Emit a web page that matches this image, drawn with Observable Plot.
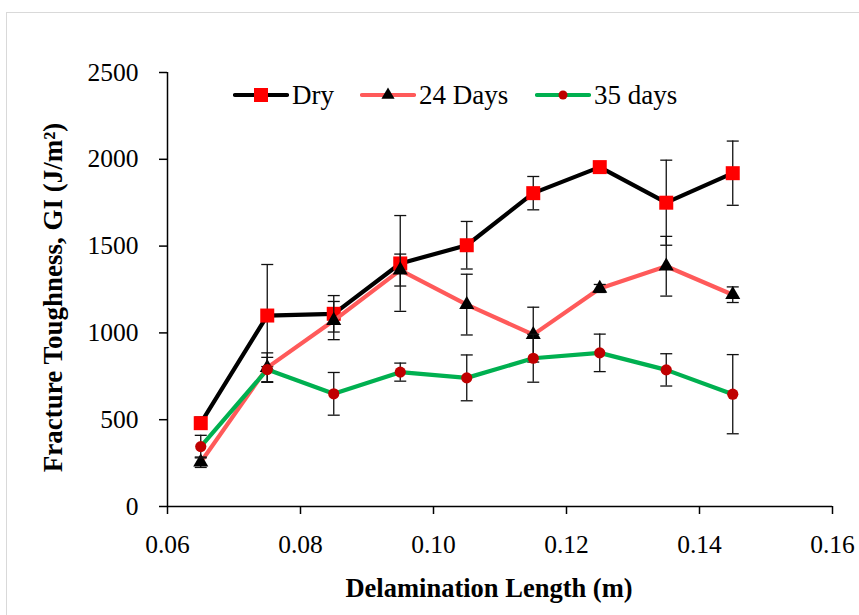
<!DOCTYPE html>
<html>
<head>
<meta charset="utf-8">
<script src="https://cdn.jsdelivr.net/npm/d3@7"></script>
<script src="https://cdn.jsdelivr.net/npm/@observablehq/plot@0.6"></script>
<style>
  html, body { margin: 0; padding: 0; background: #fff; }
  #wrap { position: relative; width: 859px; height: 615px; overflow: hidden; font-family: "Liberation Serif", serif; }
  #border { position: absolute; left: 6px; top: 12px; width: 870px; height: 640px; border: 1px solid #d9d9d9; box-sizing: border-box; }
  #chart { position: absolute; left: 0; top: 0; }
  .leg { position: absolute; top: 77px; height: 36px; display: flex; align-items: center; font-size: 27px; color: #000; white-space: nowrap; }
  .leg svg { margin-right: 3px; }
</style>
</head>
<body>
<div id="wrap">
  <div id="border"></div>
  <div id="chart"></div>
</div>
<script>
// ---- data ----
const lengths = [0.065, 0.075, 0.085, 0.095, 0.105, 0.115, 0.125, 0.135, 0.145];
const dryValues   = [480, 1100, 1110, 1400, 1505, 1805, 1955, 1750, 1920];
const dryErrors   = [35, 294, 105, 276, 137, 96, 10, 245, 185];
const days24Values = [255, 800, 1071, 1362, 1163, 990, 1256, 1384, 1220];
const days24Errors = [30, 85, 110, 92, 175, 158, 23, 172, 45];
const days35Values = [345, 789, 649, 774, 741, 854, 885, 787, 647];
const days35Errors = [65, 70, 123, 52, 132, 138, 108, 93, 228];
const seriesNames = ["Dry", "24 Days", "35 days"];
const xTicks = [0.06, 0.08, 0.10, 0.12, 0.14, 0.16];
const yTicks = [0, 500, 1000, 1500, 2000, 2500];
const xTitle = "Delamination Length (m)";
const yTitle = "Fracture Toughness, GI (J/m\u00B2)";

// ---- styles ----
const styles = [
  {line: "#000000", marker: "#FF0000", symbol: "square", r: 7.9},
  {line: "#FF5A5A", marker: "#000000", symbol: "triangle", r: 5.6},
  {line: "#00B050", marker: "#C00000", symbol: "circle", r: 5.6}
];

const rows = (vals, errs) => lengths.map((x, i) => ({x, y: vals[i], lo: vals[i] - errs[i], hi: vals[i] + errs[i]}));
const series = [rows(dryValues, dryErrors), rows(days24Values, days24Errors), rows(days35Values, days35Errors)];

const capSymbol = { draw(ctx) { ctx.moveTo(-6, 0); ctx.lineTo(6, 0); } };

const marks = [
  Plot.axisY({ticks: yTicks, tickSize: 8, tickPadding: 21, fontSize: 25.5, strokeWidth: 1.5, tickFormat: d3.format("d"), label: null}),
  Plot.axisX({ticks: xTicks, tickSize: 8, tickPadding: 20, fontSize: 25.5, strokeWidth: 1.5, tickFormat: d3.format(".2f"), label: null}),
  Plot.ruleY([yTicks[0]], {stroke: "#000", strokeWidth: 1.5}),
  Plot.ruleX([xTicks[0]], {stroke: "#000", strokeWidth: 1.5}),
  Plot.text([xTitle], {frameAnchor: "bottom", dy: 82, dx: -11, fontWeight: "bold", fontSize: 26.5, lineAnchor: "middle", textAnchor: "middle"}),
  Plot.text([yTitle], {frameAnchor: "left", rotate: -90, dx: -114, dy: 8, fontWeight: "bold", fontSize: 27, lineAnchor: "middle", textAnchor: "middle"})
];

series.forEach((data, k) => {
  const s = styles[k];
  marks.push(
    Plot.line(data, {x: "x", y: "y", stroke: s.line, strokeWidth: 4.2, strokeLinejoin: "round", strokeLinecap: "round"}),
    Plot.ruleX(data, {x: "x", y1: "lo", y2: "hi", stroke: "#111", strokeWidth: 1.3}),
    Plot.dot(data, {x: "x", y: "lo", symbol: capSymbol, stroke: "#111", strokeWidth: 1.3, r: 6}),
    Plot.dot(data, {x: "x", y: "hi", symbol: capSymbol, stroke: "#111", strokeWidth: 1.3, r: 6}),
    Plot.dot(data, {x: "x", y: "y", symbol: s.symbol, fill: s.marker, stroke: "none", r: s.r})
  );
});

const chart = Plot.plot({
  width: 859,
  height: 615,
  marginLeft: 167,
  marginRight: 27,
  marginTop: 72,
  marginBottom: 109,
  style: {fontFamily: "Liberation Serif", fontSize: "25px", color: "#000", background: "transparent", overflow: "visible"},
  x: {domain: [xTicks[0], xTicks[xTicks.length - 1]]},
  y: {domain: [yTicks[0], yTicks[yTicks.length - 1]]},
  marks
});
document.getElementById("chart").appendChild(chart);

// ---- legend ----
const legendLeft = [233, 360, 535];
const wrap = document.getElementById("wrap");
seriesNames.forEach((name, k) => {
  const s = styles[k];
  const div = document.createElement("div");
  div.className = "leg";
  div.style.left = legendLeft[k] + "px";
  const svg = d3.create("svg").attr("width", 56).attr("height", 36);
  svg.append("line").attr("x1", 2).attr("x2", 54).attr("y1", 18).attr("y2", 18)
    .attr("stroke", s.line).attr("stroke-width", 4.2).attr("stroke-linecap", "round");
  const sym = {square: d3.symbolSquare, triangle: d3.symbolTriangle, circle: d3.symbolCircle}[s.symbol];
  const size = k === 0 ? 196 : k === 1 ? 75 : 64;
  svg.append("path").attr("d", d3.symbol(sym, size)()).attr("transform", "translate(28,18)").attr("fill", s.marker);
  div.appendChild(svg.node());
  const span = document.createElement("span");
  span.textContent = name;
  div.appendChild(span);
  wrap.appendChild(div);
});
</script>
</body>
</html>
